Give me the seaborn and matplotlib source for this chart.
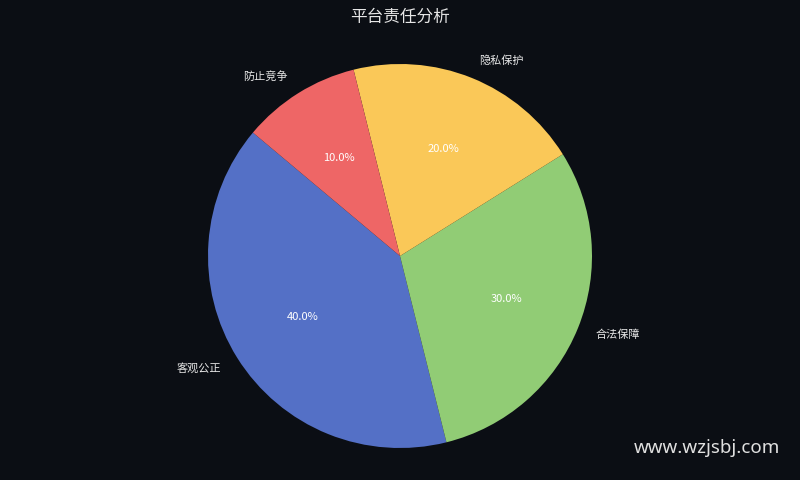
import matplotlib
matplotlib.use("Agg")
import matplotlib.pyplot as plt
import seaborn as sns

# 数据
labels = ["客观公正", "合法保障", "隐私保护", "防止竞争"]
shares = [40, 30, 20, 10]
colors = ["#5470c6", "#91cc75", "#fac858", "#ee6666"]

BG = "#0b0e14"

sns.set_theme(style="dark")
plt.rcParams["font.family"] = ["Noto Sans CJK SC", "DejaVu Sans"]

fig = plt.figure(figsize=(8, 4.8), dpi=100, facecolor=BG)
ax = fig.add_axes([0, 0, 1, 1])
ax.set_facecolor(BG)

palette = sns.color_palette(colors)
wedges, texts, autotexts = ax.pie(
    shares,
    labels=labels,
    colors=palette,
    startangle=140,
    autopct="%1.1f%%",
    pctdistance=0.6,
    labeldistance=1.1,
    wedgeprops={"linewidth": 0},
    textprops={"fontsize": 8, "color": "#e8e8e8"},
)
for t in autotexts:
    t.set_color("white")
    t.set_fontsize(8)

# 1 单位 = 192 像素, 圆心 (400, 256)
ax.set_xlim(-400 / 192, 400 / 192)
ax.set_ylim(-224 / 192, 256 / 192)
ax.axis("off")

fig.text(0.5, 1 - 17 / 480, "平台责任分析", ha="center", va="center",
         fontsize=12, color="#e6e6e6")
fig.text(780 / 800, 1 - 448 / 480, "www.wzjsbj.com", ha="right", va="center",
         fontsize=13.5, color="#e0e0e0", family=["Noto Sans", "DejaVu Sans"])

fig.savefig("out.png", dpi=100, facecolor=BG)
plt.close(fig)
